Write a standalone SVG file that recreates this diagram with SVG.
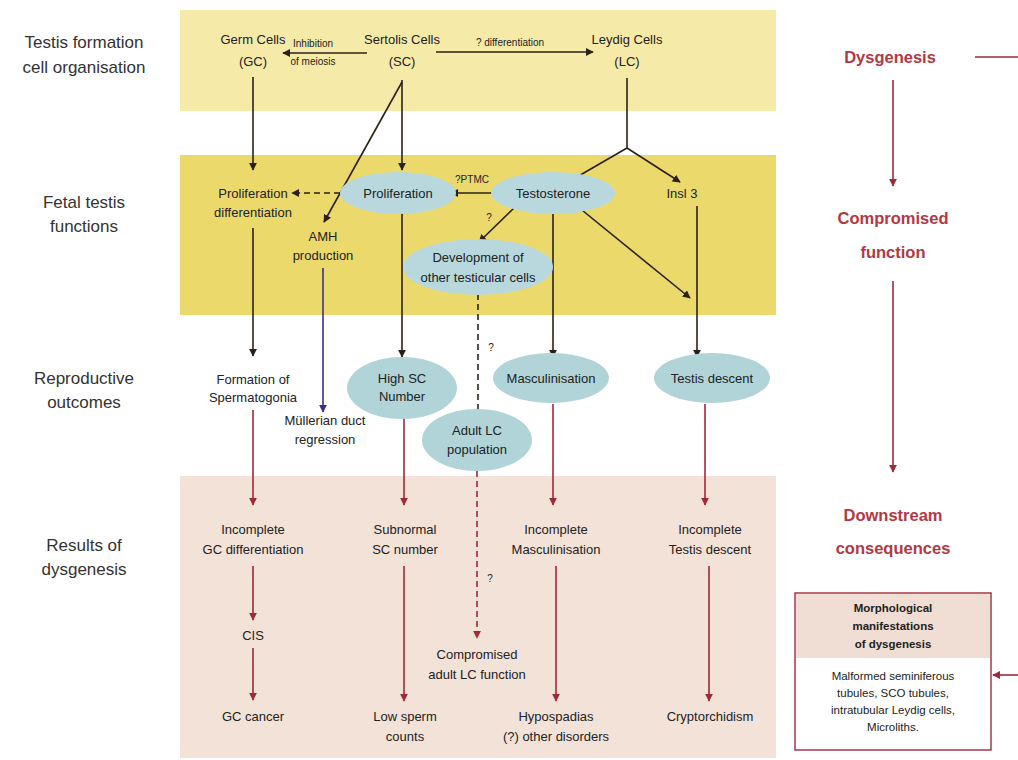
<svg xmlns="http://www.w3.org/2000/svg" width="1018" height="760" viewBox="0 0 1018 760">
<defs>
<marker id="ab" viewBox="0 0 10 10" refX="9" refY="5" markerWidth="8" markerHeight="8" markerUnits="userSpaceOnUse" orient="auto"><path d="M0,0 L10,5 L0,10 z" fill="#2a2218"/></marker>
<marker id="ar" viewBox="0 0 10 10" refX="9" refY="5" markerWidth="8" markerHeight="8" markerUnits="userSpaceOnUse" orient="auto"><path d="M0,0 L10,5 L0,10 z" fill="#9e2a3a"/></marker>
<marker id="au" viewBox="0 0 10 10" refX="9" refY="5" markerWidth="8" markerHeight="8" markerUnits="userSpaceOnUse" orient="auto"><path d="M0,0 L10,5 L0,10 z" fill="#3a2f8a"/></marker>
</defs>
<style>
text{font-family:"Liberation Sans",Arial,sans-serif;fill:#222;text-anchor:middle}
.lab{font-size:17px;fill:#333}
.n{font-size:13px}
.s{font-size:10px}
.red{font-size:16.5px;font-weight:bold;fill:#b23844}
.box{font-size:11.5px}
.bl{stroke:#2a2218;stroke-width:1.6;fill:none;marker-end:url(#ab)}
.rl{stroke:#9e2a3a;stroke-width:1.6;fill:none;marker-end:url(#ar)}
.dash{stroke-dasharray:6,4}
.ell{fill:#b9d8de}
.ell2{fill:#b0d4d8}
</style>
<rect width="1018" height="760" fill="#ffffff"/>
<g id="bands">
<rect x="180" y="10" width="596" height="101" fill="#f6eaa8"/>
<rect x="180" y="155" width="596" height="160" fill="#ecd96c"/>
<rect x="180" y="476" width="596" height="282" fill="#f3e2d8"/>
</g>
<g id="row-labels">
<text class="lab" x="84" y="48">Testis formation</text>
<text class="lab" x="84" y="73">cell organisation</text>
<text class="lab" x="84" y="208">Fetal testis</text>
<text class="lab" x="84" y="232">functions</text>
<text class="lab" x="84" y="384">Reproductive</text>
<text class="lab" x="84" y="408">outcomes</text>
<text class="lab" x="84" y="551">Results of</text>
<text class="lab" x="84" y="575">dysgenesis</text>
</g>
<g id="connectors">
<line class="bl" x1="367" y1="53" x2="283" y2="53"/>
<line class="bl" x1="436" y1="52" x2="593" y2="52"/>
<line class="bl" x1="253" y1="77" x2="253" y2="170"/>
<line class="bl" x1="402" y1="80" x2="402" y2="170"/>
<line class="bl" x1="402" y1="82" x2="324" y2="222"/>
<polyline points="627,78 627,148" stroke="#2a2218" stroke-width="1.6" fill="none"/>
<line class="bl" x1="627" y1="148" x2="570" y2="181"/>
<line class="bl" x1="627" y1="148" x2="680" y2="182"/>
<line class="bl dash" x1="340" y1="193" x2="292" y2="193"/>
<line class="bl" x1="495" y1="193" x2="451" y2="193"/>
<line class="bl" x1="515" y1="207" x2="479" y2="242"/>
<line class="bl" x1="577" y1="206" x2="690" y2="298"/>
<line class="bl" x1="253" y1="228" x2="253" y2="356"/>
<line x1="323" y1="268" x2="323" y2="412" stroke="#3a2f8a" stroke-width="1.6" marker-end="url(#au)"/>
<line class="bl" x1="402" y1="206" x2="402" y2="357"/>
<line class="bl dash" x1="478" y1="294" x2="478" y2="420"/>
<line class="bl" x1="553" y1="206" x2="553" y2="357"/>
<line class="bl" x1="697" y1="206" x2="697" y2="357"/>
<line class="rl" x1="253" y1="410" x2="253" y2="505"/>
<line class="rl" x1="404" y1="418" x2="404" y2="505"/>
<line class="rl" x1="553" y1="404" x2="553" y2="505"/>
<line class="rl" x1="705" y1="404" x2="705" y2="505"/>
<line class="rl dash" x1="477" y1="471" x2="477" y2="638"/>
<line class="rl" x1="253" y1="566" x2="253" y2="620"/>
<line class="rl" x1="253" y1="648" x2="253" y2="700"/>
<line class="rl" x1="404" y1="566" x2="404" y2="701"/>
<line class="rl" x1="556" y1="566" x2="556" y2="701"/>
<line class="rl" x1="709" y1="566" x2="709" y2="701"/>
<line class="rl" x1="893" y1="80" x2="893" y2="186"/>
<line class="rl" x1="893" y1="281" x2="893" y2="472"/>
<line x1="975" y1="57" x2="1018" y2="57" stroke="#9e2a3a" stroke-width="1.6"/>
<line class="rl" x1="1018" y1="675" x2="993" y2="675"/>
</g>
<g id="edge-labels">
<text class="s" x="313" y="47">Inhibition</text>
<text class="s" x="313" y="65">of meiosis</text>
<text class="s" x="510" y="46">? differentiation</text>
<text class="s" x="472" y="183">?PTMC</text>
<text class="s" x="489" y="221">?</text>
<text class="s" x="491" y="351">?</text>
<text class="s" x="490" y="582">?</text>
</g>
<g id="gc"><text class="n" x="253" y="44">Germ Cells</text><text class="n" x="253" y="66">(GC)</text></g>
<g id="sc"><text class="n" x="402" y="44">Sertolis Cells</text><text class="n" x="402" y="66">(SC)</text></g>
<g id="lc"><text class="n" x="627" y="44">Leydig Cells</text><text class="n" x="627" y="66">(LC)</text></g>
<g id="prolif-diff"><text class="n" x="253" y="198">Proliferation</text><text class="n" x="253" y="217">differentiation</text></g>
<g id="prolif"><ellipse class="ell" cx="398" cy="193" rx="58" ry="21"/><text class="n" x="398" y="198">Proliferation</text></g>
<g id="testo"><ellipse class="ell" cx="553" cy="193" rx="62" ry="21"/><text class="n" x="553" y="198">Testosterone</text></g>
<g id="insl3"><text class="n" x="682" y="198">Insl 3</text></g>
<g id="amh"><text class="n" x="323" y="241">AMH</text><text class="n" x="323" y="260">production</text></g>
<g id="dev"><ellipse class="ell" cx="478" cy="267" rx="75" ry="28"/><text class="n" x="478" y="262">Development of</text><text class="n" x="478" y="282">other testicular cells</text></g>
<g id="spermatogonia"><text class="n" x="253" y="384">Formation of</text><text class="n" x="253" y="402">Spermatogonia</text></g>
<g id="mullerian"><text class="n" x="325" y="425">Müllerian duct</text><text class="n" x="325" y="444">regression</text></g>
<g id="highsc"><ellipse class="ell2" cx="402" cy="388" rx="55" ry="31"/><text class="n" x="402" y="383">High SC</text><text class="n" x="402" y="401">Number</text></g>
<g id="adultlc"><ellipse class="ell2" cx="477" cy="440" rx="55" ry="31"/><text class="n" x="477" y="435">Adult LC</text><text class="n" x="477" y="454">population</text></g>
<g id="masc"><ellipse class="ell2" cx="551" cy="378" rx="58" ry="25"/><text class="n" x="551" y="383">Masculinisation</text></g>
<g id="descent"><ellipse class="ell2" cx="712" cy="378" rx="58" ry="25"/><text class="n" x="712" y="383">Testis descent</text></g>
<g id="inc-gc"><text class="n" x="253" y="534">Incomplete</text><text class="n" x="253" y="554">GC differentiation</text></g>
<g id="subnormal"><text class="n" x="405" y="534">Subnormal</text><text class="n" x="405" y="554">SC number</text></g>
<g id="inc-masc"><text class="n" x="556" y="534">Incomplete</text><text class="n" x="556" y="554">Masculinisation</text></g>
<g id="inc-desc"><text class="n" x="710" y="534">Incomplete</text><text class="n" x="710" y="554">Testis descent</text></g>
<g id="cis"><text class="n" x="253" y="640">CIS</text></g>
<g id="complc"><text class="n" x="477" y="659">Compromised</text><text class="n" x="477" y="679">adult LC function</text></g>
<g id="gccancer"><text class="n" x="253" y="721">GC cancer</text></g>
<g id="lowsperm"><text class="n" x="405" y="721">Low sperm</text><text class="n" x="405" y="741">counts</text></g>
<g id="hypo"><text class="n" x="556" y="721">Hypospadias</text><text class="n" x="556" y="741">(?) other disorders</text></g>
<g id="crypt"><text class="n" x="710" y="721">Cryptorchidism</text></g>
<g id="dysgenesis"><text class="red" x="890" y="63">Dysgenesis</text></g>
<g id="compfunc"><text class="red" x="893" y="224">Compromised</text><text class="red" x="893" y="258">function</text></g>
<g id="downstream"><text class="red" x="893" y="521">Downstream</text><text class="red" x="893" y="554">consequences</text></g>
<g id="morph">
<rect x="795" y="593" width="196" height="157" fill="#ffffff" stroke="#9e2a3a" stroke-width="1.4"/>
<rect x="796" y="594" width="194" height="64" fill="#f0ddd3"/>
<text class="box" x="893" y="612" font-weight="bold">Morphological</text>
<text class="box" x="893" y="630" font-weight="bold">manifestations</text>
<text class="box" x="893" y="648" font-weight="bold">of dysgenesis</text>
<text class="box" x="893" y="680">Malformed seminiferous</text>
<text class="box" x="893" y="697">tubules, SCO tubules,</text>
<text class="box" x="893" y="714">intratubular Leydig cells,</text>
<text class="box" x="893" y="731">Microliths.</text>
</g>
</svg>
